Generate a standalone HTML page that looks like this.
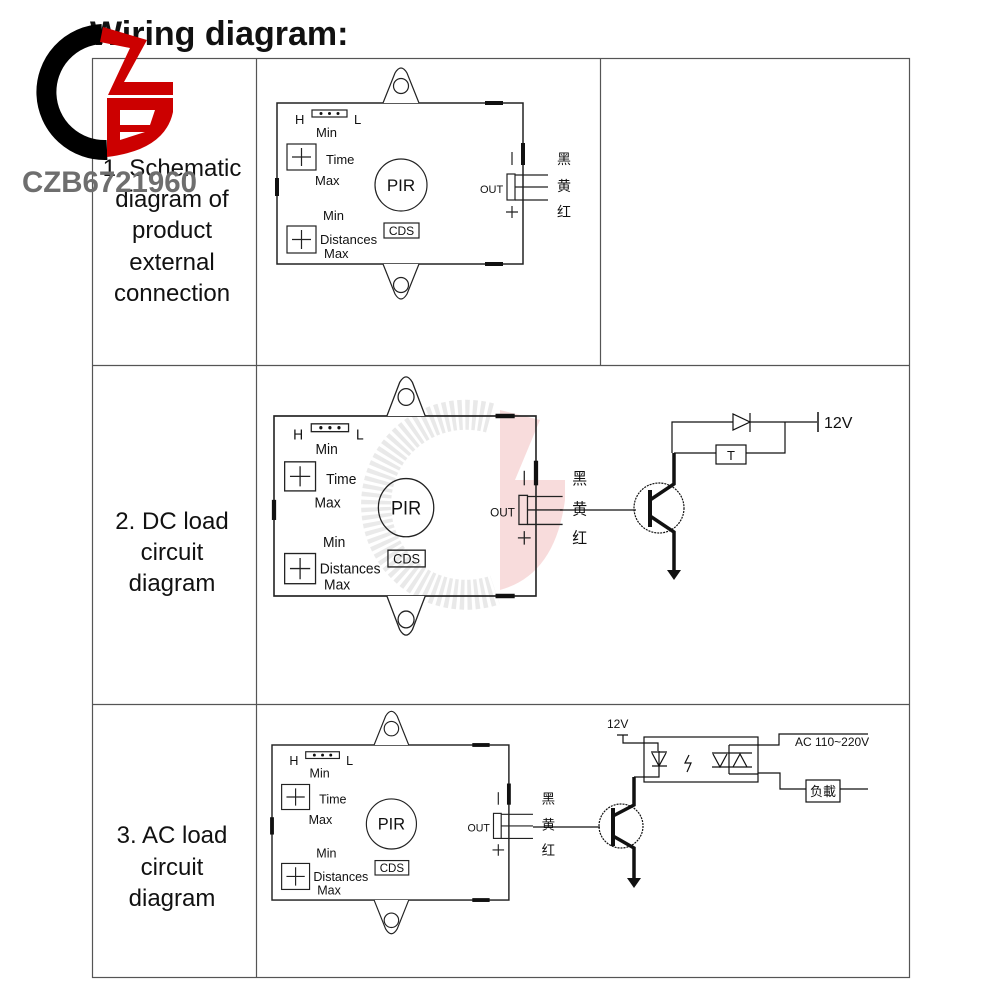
<!DOCTYPE html>
<html><head><meta charset="utf-8"><style>
html,body{margin:0;padding:0;background:#fff;width:1000px;height:1000px;overflow:hidden}
svg{display:block}
text{font-family:"Liberation Sans","Noto Sans CJK SC",sans-serif;fill:#111}
</style></head><body>
<svg width="1000" height="1000" viewBox="0 0 1000 1000" xmlns="http://www.w3.org/2000/svg">
<defs>
<g id="mod">
  <rect x="0" y="0" width="246" height="161" fill="none" stroke="#222" stroke-width="1.5"/>
  <path d="M106,0 L118,-30 Q124,-40 130,-30 L142,0" fill="#fff" stroke="#222" stroke-width="1.2"/>
  <circle cx="124" cy="-17" r="7.5" fill="none" stroke="#222" stroke-width="1.2"/>
  <path d="M106,161 L118,191 Q124,201 130,191 L142,161" fill="#fff" stroke="#222" stroke-width="1.2"/>
  <circle cx="124" cy="182" r="7.5" fill="none" stroke="#222" stroke-width="1.2"/>
  <rect x="208" y="-2" width="18" height="4" fill="#111"/>
  <rect x="208" y="159" width="18" height="4" fill="#111"/>
  <rect x="-2" y="75" width="4" height="18" fill="#111"/>
  <rect x="244" y="40" width="4" height="22" fill="#111"/>
  <text x="18" y="21" font-size="13">H</text>
  <rect x="35" y="7" width="35" height="7" fill="none" stroke="#222" stroke-width="1.2"/>
  <circle cx="44" cy="10.5" r="1.5" fill="#111"/><circle cx="52.5" cy="10.5" r="1.5" fill="#111"/><circle cx="61" cy="10.5" r="1.5" fill="#111"/>
  <text x="77" y="21" font-size="13">L</text>
  <text x="39" y="34" font-size="13">Min</text>
  <rect x="10" y="41" width="29" height="26" fill="none" stroke="#222" stroke-width="1.2"/>
  <path d="M15,54 H34 M24.5,45 V63" stroke="#222" stroke-width="1.2"/>
  <text x="49" y="61" font-size="13">Time</text>
  <text x="38" y="82" font-size="13">Max</text>
  <circle cx="124" cy="82" r="26" fill="none" stroke="#222" stroke-width="1.2"/>
  <text x="124" y="88" font-size="17" text-anchor="middle">PIR</text>
  <text x="46" y="117" font-size="13">Min</text>
  <rect x="107" y="120" width="35" height="15" fill="none" stroke="#222" stroke-width="1.2"/>
  <text x="124.5" y="132" font-size="12" text-anchor="middle">CDS</text>
  <rect x="10" y="123" width="29" height="27" fill="none" stroke="#222" stroke-width="1.2"/>
  <path d="M15,136.5 H34 M24.5,127 V146" stroke="#222" stroke-width="1.2"/>
  <text x="43" y="141" font-size="13">Distances</text>
  <text x="47" y="155" font-size="13">Max</text>
  <text x="203" y="90" font-size="11">OUT</text>
  <rect x="230" y="71" width="8" height="26" fill="none" stroke="#222" stroke-width="1.2"/>
  <path d="M238,72 H271 M238,84 H271 M238,97 H271" stroke="#222" stroke-width="1.2"/>
  <path d="M235,49 V62" stroke="#222" stroke-width="1.2"/>
  <path d="M229,109 H241 M235,103 V115" stroke="#222" stroke-width="1.2"/>
  <text x="280" y="61" font-size="14">黑</text>
  <text x="280" y="88" font-size="14">黄</text>
  <text x="280" y="114" font-size="14">红</text>
</g>
</defs>

<text x="90" y="45" font-size="34" font-weight="bold">Wiring diagram:</text>

<!-- table -->
<g stroke="#555" stroke-width="1.2" fill="none">
  <rect x="92.5" y="58.5" width="817" height="919"/>
  <path d="M256.5,58 V978 M600.5,58 V365 M92,365.5 H910 M92,704.5 H910"/>
</g>

<g font-size="24" text-anchor="middle">
  <text x="172" y="176">1. Schematic</text>
  <text x="172" y="207">diagram of</text>
  <text x="172" y="238">product</text>
  <text x="172" y="270">external</text>
  <text x="172" y="301">connection</text>
  <text x="172" y="529">2. DC load</text>
  <text x="172" y="560">circuit</text>
  <text x="172" y="591">diagram</text>
  <text x="172" y="843">3. AC load</text>
  <text x="172" y="875">circuit</text>
  <text x="172" y="906">diagram</text>
</g>

<!-- faint watermark row 2 -->
<g opacity="0.18">
  <path d="M490,418 A90,90 0 1,0 495,590" fill="none" stroke="#888" stroke-width="30" stroke-dasharray="4 3"/>
  <path d="M500,410 L540,420 L515,480 L565,480 L565,500 Q555,575 500,590 Z" fill="#d44"/>
</g>

<use href="#mod" x="0" y="0" transform="translate(277,103)"/>
<use href="#mod" transform="translate(274,416) scale(1.065,1.118)"/>
<use href="#mod" transform="translate(272,745) scale(0.963)"/>

<!-- DC circuit -->
<g stroke="#111" fill="none" stroke-width="1.2">
  <path d="M560,510 H636"/>
  <circle cx="659" cy="508" r="25" stroke-dasharray="2 1"/>
  <path d="M650,490 V527" stroke-width="4"/>
  <path d="M650,500 L674,484 V453" stroke-width="3.5"/>
  <path d="M650,516 L674,532 V570" stroke-width="3.5"/>
  <path d="M672,453 V422 H733 M750,422 H817 M785,422 V453 H746 M716,453 H674"/>
  <path d="M733,414 V430 L750,422 Z M750,413 V432"/>
  <rect x="716" y="445" width="30" height="19"/>
  <path d="M818,412 V432" stroke-width="1.5"/>
</g>
<path d="M667,570 L681,570 L674,580 Z" fill="#111"/>
<text x="731" y="460" font-size="13" text-anchor="middle">T</text>
<text x="824" y="428" font-size="16">12V</text>

<!-- AC circuit -->
<g stroke="#111" fill="none" stroke-width="1.2">
  <path d="M533,827 H600"/>
  <circle cx="621" cy="826" r="22" stroke-dasharray="2 1"/>
  <path d="M613,808 V846" stroke-width="4"/>
  <path d="M613,816 L634,805 V777" stroke-width="3.5"/>
  <path d="M613,836 L634,848 V878" stroke-width="3.5"/>
  <path d="M634,777 H659 V751"/>
  <path d="M617,735 H628 M623,735 V743 H658 V751"/>
  <rect x="644" y="737" width="114" height="45"/>
  <path d="M651,752 H667 M652,753 L659,766 L666,753 M652,766 H667"/>
  <path d="M689,755 L685,763 L691,763 L687,772"/>
  <path d="M712,753 H731 M713,754 L720,767 L727,754 M712,767 H752 M733,767 L740,754 L747,767 M730,753 H752"/>
  <path d="M729,745 V774 M729,745 H758 M729,774 H758"/>
  <path d="M758,745 H779 V734 H868"/>
  <path d="M758,773 H780 V789 H806 M840,789 H868"/>
  <rect x="806" y="780" width="34" height="22"/>
</g>
<path d="M627,878 L641,878 L634,888 Z" fill="#111"/>
<text x="607" y="728" font-size="12">12V</text>
<text x="795" y="746" font-size="12">AC 110~220V</text>
<text x="823" y="796" font-size="13" text-anchor="middle">负載</text>

<!-- logo -->
<path d="M102,34 A55,55 0 1,0 107,150" fill="none" stroke="#000" stroke-width="20"/>
<path d="M103,27 L147,40 L124,82 L173,82 L173,95 L108,95 L130,48 L100,42 Z" fill="#c00"/>
<path d="M107,98 L173,98 L173,112 Q165,150 107,157 Z" fill="#c00"/>
<path d="M120,110 L155,110 L150,125 L120,125 Z M120,132 L145,132 L120,140 Z" fill="#fff"/>
<text x="22" y="192" font-size="30" font-weight="bold" fill="#777" style="fill:#6e6e6e" textLength="175" lengthAdjust="spacingAndGlyphs">CZB6721960</text>
</svg>
</body></html>
